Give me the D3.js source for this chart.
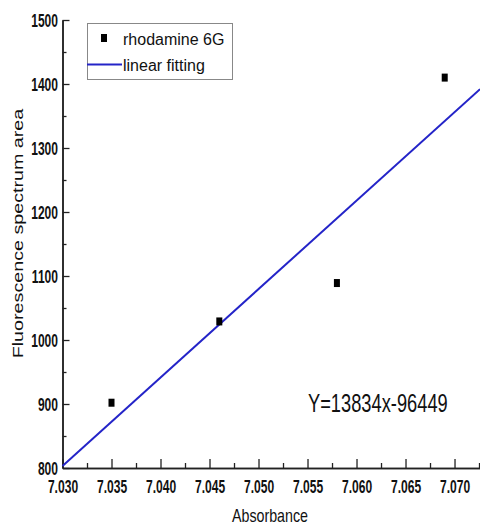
<!DOCTYPE html>
<html><head><meta charset="utf-8">
<script src="https://cdn.jsdelivr.net/npm/d3@7"></script>
<style>
html,body{margin:0;padding:0;background:#fff;}
svg{display:block;}
text{font-family:"Liberation Sans",Arial,sans-serif;fill:#111;}
</style></head>
<body>
<svg id="c" width="480" height="529"></svg>
<script>
// data
const absorbance = [7.035, 7.046, 7.058, 7.069];
const fluorArea = [902, 1029, 1089, 1410];
const fitX = [7.030, 7.0726];
const fitY = [803, 1392];
const xMajorTicks = [7.030, 7.035, 7.040, 7.045, 7.050, 7.055, 7.060, 7.065, 7.070];
const xMinorTicks = [7.0325, 7.0375, 7.0425, 7.0475, 7.0525, 7.0575, 7.0625, 7.0675, 7.0725];
const yMajorTicks = [800, 900, 1000, 1100, 1200, 1300, 1400, 1500];
const yMinorTicks = [850, 950, 1050, 1150, 1250, 1350, 1450];
const seriesName = "rhodamine 6G";
const fitName = "linear fitting";
const equation = "Y=13834x-96449";
const xTitle = "Absorbance";
const yTitle = "Fluorescence spectrum area";

const svg = d3.select("#c");
const x = d3.scaleLinear().domain([7.030, 7.0726]).range([62.5, 480]);
const y = d3.scaleLinear().domain([800, 1500]).range([468, 20]);
const sxTick = 0.67;

// x axis
const gx = svg.append("g").attr("transform", "translate(0,468)");
gx.call(d3.axisBottom(x).tickValues(xMinorTicks).tickSizeInner(-5).tickSizeOuter(0).tickFormat(""));
gx.append("g").call(d3.axisBottom(x).tickValues(xMajorTicks).tickSizeInner(-9).tickSizeOuter(0).tickFormat(d3.format(".3f")));
gx.selectAll("path.domain").attr("stroke", "#222").attr("stroke-width", 1.5);
gx.selectAll("line").attr("stroke", "#222").attr("stroke-width", 1.3);
gx.selectAll("text").attr("y", 12).attr("dy", "0.71em")
  .attr("font-size", 18).attr("font-weight", "bold")
  .attr("font-family", "Liberation Sans, Arial, sans-serif").attr("fill", "#111")
  .attr("transform", `scale(${sxTick},1)`);

// y axis
const gy = svg.append("g").attr("transform", "translate(62.5,0)");
gy.call(d3.axisLeft(y).tickValues(yMinorTicks).tickSizeInner(-4).tickSizeOuter(0).tickFormat(""));
gy.append("g").call(d3.axisLeft(y).tickValues(yMajorTicks).tickSizeInner(-7).tickSizeOuter(0).tickFormat(d3.format("d")));
gy.selectAll("path.domain").attr("stroke", "#222").attr("stroke-width", 1.5);
gy.selectAll("line").attr("stroke", "#222").attr("stroke-width", 1.3);
gy.selectAll("text").attr("x", -4.5 / sxTick).attr("dy", "0.38em")
  .attr("font-size", 18).attr("font-weight", "bold")
  .attr("font-family", "Liberation Sans, Arial, sans-serif").attr("fill", "#111")
  .attr("transform", `scale(${sxTick},1)`);

// fit line
const fitData = fitX.map((v, i) => ({x: v, y: fitY[i]}));
svg.append("path").datum(fitData)
  .attr("d", d3.line().x(d => x(d.x)).y(d => y(d.y)))
  .attr("fill", "none").attr("stroke", "#2424c8").attr("stroke-width", 2);

// points
const pts = absorbance.map((v, i) => ({x: v, y: fluorArea[i]}));
svg.selectAll("rect.pt").data(pts).enter().append("rect").attr("class", "pt")
  .attr("x", d => x(d.x) - 3).attr("y", d => y(d.y) - 4)
  .attr("width", 6).attr("height", 8).attr("fill", "#000");

// legend
svg.append("rect").attr("x", 87.5).attr("y", 23.5).attr("width", 145).attr("height", 56)
  .attr("fill", "#fff").attr("stroke", "#888").attr("stroke-width", 1);
svg.append("rect").attr("x", 101).attr("y", 34).attr("width", 6).attr("height", 8).attr("fill", "#000");
svg.append("line").attr("x1", 87).attr("x2", 122).attr("y1", 64.5).attr("y2", 64.5)
  .attr("stroke", "#2424c8").attr("stroke-width", 2);
svg.append("text").attr("x", 123).attr("y", 44.5).attr("font-size", 16).text(seriesName);
svg.append("text").attr("x", 123).attr("y", 71).attr("font-size", 16).text(fitName);

// equation
svg.append("text").attr("transform", "translate(308,412) scale(0.69,1)")
  .attr("font-size", 26.5).text(equation);

// axis titles
svg.append("text").attr("transform", "translate(270,522) scale(0.75,1)")
  .attr("text-anchor", "middle").attr("font-size", 19).text(xTitle);
svg.append("text").attr("transform", "translate(23.3,233.5) scale(0.75,1) rotate(-90)")
  .attr("text-anchor", "middle").attr("font-size", 19.7).text(yTitle);
</script>
</body></html>
